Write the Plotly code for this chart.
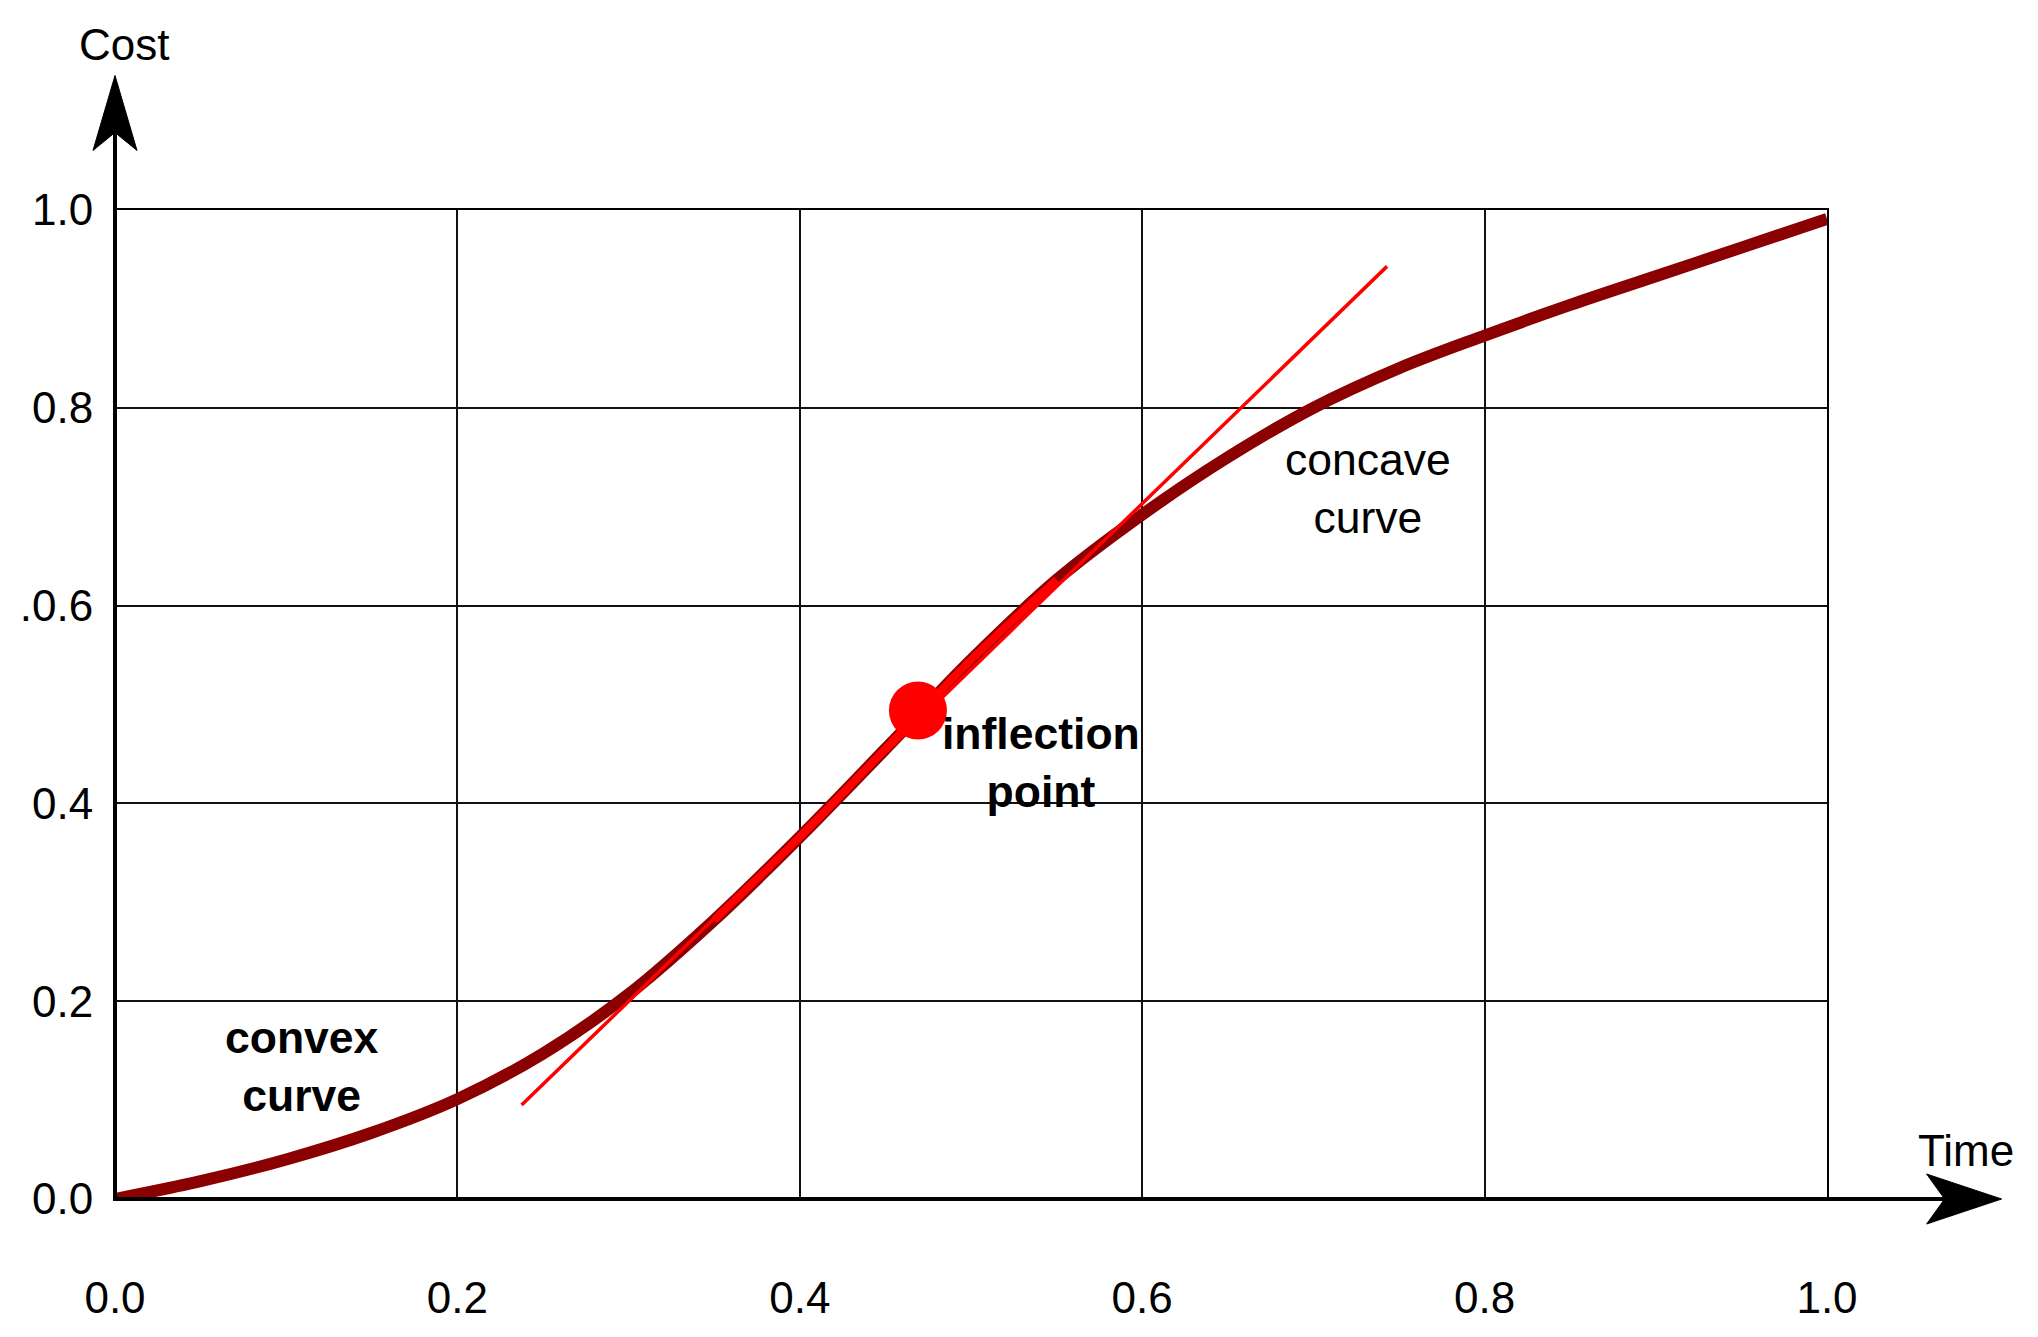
import plotly.graph_objects as go

# curve
time = [0.0, 0.05, 0.1, 0.15, 0.2, 0.25, 0.3, 0.35, 0.4, 0.45, 0.5,
        0.55, 0.6, 0.65, 0.7, 0.75, 0.8, 0.85, 0.9, 0.95, 1.0]
cost = [0.0, 0.018, 0.040, 0.067, 0.101, 0.147, 0.207, 0.282, 0.366, 0.455, 0.545,
        0.626, 0.692, 0.750, 0.800, 0.840, 0.873, 0.904, 0.933, 0.962, 0.991]

# tangent through the inflection point
tangent_x = [0.2375, 0.743]
tangent_y = [0.095, 0.943]
inflection_x = [0.469]
inflection_y = [0.494]

tick_vals = [0.0, 0.2, 0.4, 0.6, 0.8, 1.0]
x_tick_text = ["0.0", "0.2", "0.4", "0.6", "0.8", "1.0"]
y_tick_text = ["0.0", "0.2", "0.4", ".0.6", "0.8", "1.0"]

FONT = "Liberation Sans, Arial, sans-serif"
DARK_RED = "#8B0000"
RED = "#FF0000"

fig = go.Figure()
fig.add_trace(go.Scatter(
    x=time, y=cost, mode="lines", line_shape="spline",
    line={"color": DARK_RED, "width": 12}, cliponaxis=False,
))
# red overlay of the curve where it runs along the tangent
mid = [i for i, t in enumerate(time) if 0.33 <= t <= 0.58]
fig.add_trace(go.Scatter(
    x=[time[i] for i in mid], y=[cost[i] for i in mid], mode="lines",
    line_shape="spline", line={"color": RED, "width": 8}, cliponaxis=False,
))
fig.add_trace(go.Scatter(
    x=tangent_x, y=tangent_y, mode="lines",
    line={"color": RED, "width": 3.5}, cliponaxis=False,
))
fig.add_trace(go.Scatter(
    x=inflection_x, y=inflection_y, mode="markers",
    marker={"color": RED, "size": 58}, cliponaxis=False,
))

# axis extensions with arrowheads
fig.add_shape(type="line", xref="paper", yref="paper", x0=0, y0=0, x1=0, y1=1.08,
              line={"color": "black", "width": 4})
fig.add_shape(type="line", xref="paper", yref="paper", x0=0, y0=0, x1=1.07, y1=0,
              line={"color": "black", "width": 4})
fig.add_shape(type="path", xref="paper", yref="paper",
              xsizemode="pixel", ysizemode="pixel", xanchor=0, yanchor=1.136,
              path="M0,0 L-22,-75 L0,-57 L22,-75 Z",
              fillcolor="black", line={"color": "black", "width": 1})
fig.add_shape(type="path", xref="paper", yref="paper",
              xsizemode="pixel", ysizemode="pixel", xanchor=1.102, yanchor=0,
              path="M0,0 L-75,25 L-57,0 L-75,-25 Z",
              fillcolor="black", line={"color": "black", "width": 1})

text_font = {"family": FONT, "size": 44.5, "color": "black"}
fig.add_annotation(x=0.109, y=0.134, text="<b>convex<br>curve</b>",
                   showarrow=False, font=text_font)
fig.add_annotation(x=0.541, y=0.441, text="<b>inflection<br>point</b>",
                   showarrow=False, font=text_font)
fig.add_annotation(x=0.732, y=0.718, text="concave<br>curve",
                   showarrow=False, font=text_font)
label_font = {"family": FONT, "size": 44, "color": "black"}
fig.add_annotation(xref="paper", yref="paper", x=0.005, y=1.167, text="Cost",
                   xanchor="center", yanchor="middle", showarrow=False, font=label_font)
fig.add_annotation(xref="paper", yref="paper", x=1.081, y=0.049, text="Time",
                   xanchor="center", yanchor="middle", showarrow=False, font=label_font)

axis_common = dict(
    range=[0, 1], tickvals=tick_vals, showgrid=True, gridcolor="#111111", gridwidth=2,
    showline=True, mirror=True, linecolor="black", linewidth=2, zeroline=False,
    ticks="", tickfont={"family": FONT, "size": 44, "color": "black"},
)
fig.update_xaxes(ticktext=x_tick_text, ticklabelstandoff=59, **axis_common)
fig.update_yaxes(ticktext=y_tick_text, ticklabelstandoff=11, **axis_common)

fig.update_layout(
    width=2038, height=1337,
    margin={"l": 89, "r": 219, "t": 202, "b": 146},
    plot_bgcolor="white", paper_bgcolor="white",
    showlegend=False,
)
fig.write_html("out.html")
